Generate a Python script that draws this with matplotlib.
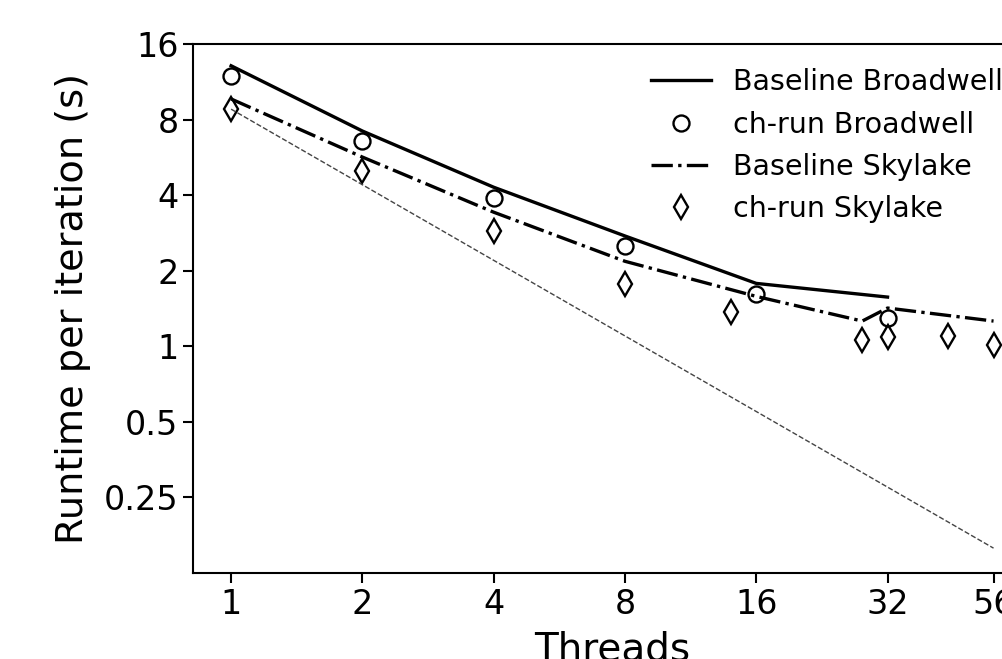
import matplotlib
matplotlib.use("Agg")
import matplotlib.pyplot as plt
from matplotlib.ticker import FixedLocator, FixedFormatter, NullLocator

# Baseline runs
bw_threads = [1, 2, 4, 8, 16, 32]
bw_base = [13.1, 7.2, 4.3, 2.75, 1.78, 1.57]
sk_threads = [1, 2, 4, 8, 16, 28, 32, 56]
sk_base = [9.66, 5.67, 3.42, 2.18, 1.58, 1.26, 1.42, 1.26]

# ch-run measurements
bw_ch_threads = [1, 2, 4, 8, 16, 32]
bw_ch = [11.9, 6.57, 3.89, 2.5, 1.61, 1.30]
sk_ch_threads = [1, 2, 4, 8, 14, 28, 32, 44, 56]
sk_ch = [8.8, 4.99, 2.87, 1.77, 1.37, 1.06, 1.09, 1.10, 1.01]

# ideal scaling reference
ideal_threads = [1, 56]
ideal = [8.8, 0.157]

xticks = [1, 2, 4, 8, 16, 32, 56]
yticks = [0.25, 0.5, 1, 2, 4, 8, 16]

fig = plt.figure(figsize=(10.02, 6.59), dpi=100)
ax = fig.add_axes([0.1926, 0.1305, 0.837, 0.8028])

ax.plot(bw_threads, bw_base, '-', color='black', lw=2.4, label='Baseline Broadwell')
ax.plot(bw_ch_threads, bw_ch, 'o', color='black', mfc='none', mec='black',
        ms=11.5, mew=1.7, label='ch-run Broadwell')
ax.plot(sk_threads, sk_base, '-.', color='black', lw=2.4, label='Baseline Skylake')
ax.plot(sk_ch_threads, sk_ch, 'd', color='black', mfc='none', mec='black',
        ms=12, mew=1.7, label='ch-run Skylake')
ax.plot(ideal_threads, ideal, '--', color='#444444', lw=1.0)

ax.set_xscale('log', base=2)
ax.set_yscale('log', base=2)
ax.set_ylim(0.125, 16)

ax.xaxis.set_major_locator(FixedLocator(xticks))
ax.xaxis.set_major_formatter(FixedFormatter([str(t) for t in xticks]))
ax.xaxis.set_minor_locator(NullLocator())
ax.yaxis.set_major_locator(FixedLocator(yticks))
ax.yaxis.set_major_formatter(FixedFormatter([f'{t:g}' for t in yticks]))
ax.yaxis.set_minor_locator(NullLocator())

ax.tick_params(axis='both', labelsize=24, length=7, width=1.5)
for s in ax.spines.values():
    s.set_linewidth(1.5)

ax.set_xlabel('Threads', fontsize=28, labelpad=7)
ax.set_ylabel('Runtime per iteration (s)', fontsize=27.5, labelpad=9)

ax.legend(loc='upper left', frameon=False, fontsize=20.5, handlelength=2.1,
          bbox_to_anchor=(0.624, 0.935), bbox_transform=fig.transFigure)

fig.savefig('out.png', dpi=100)
